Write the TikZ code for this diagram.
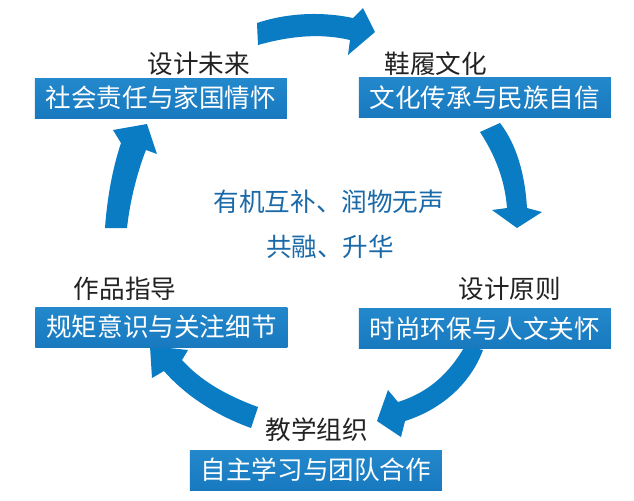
\documentclass[tikz,border=0pt]{standalone}
\usepackage{fontspec}
\setmainfont{Noto Sans CJK SC}
\definecolor{boxtop}{HTML}{2388CC}
\definecolor{boxbot}{HTML}{1879BF}
\definecolor{arrblue}{HTML}{0A7CC3}
\definecolor{ctrblue}{HTML}{1A69A8}
\definecolor{ttlgray}{HTML}{222222}
\begin{document}
\begin{tikzpicture}[x=0.5pt,y=-0.5pt,
  box/.style={top color=boxtop, bottom color=boxbot, draw=none, text=white,
    minimum width=126pt, minimum height=20pt, inner sep=0pt,
    font=\fontsize{12.8}{14}\selectfont},
  ttl/.style={text=ttlgray, inner sep=0pt, font=\fontsize{12.8}{14}\selectfont},
  ctr/.style={text=ctrblue, inner sep=0pt, font=\fontsize{12.8}{14}\selectfont},
  arr/.style={fill=arrblue, draw=none}]
\useasboundingbox (0,0) rectangle (634,500);
\fill[white] (0,0) rectangle (634,500);

% arrows
\fill[arr] (257,23) .. controls (290,12) and (325,12) .. (353,18) -- (363,8) -- (375,32) -- (348,55) -- (350,40) .. controls (320,33) and (290,36) .. (258,45) -- cycle;
\fill[arr] (480,132) .. controls (495,155) and (505,180) .. (507,208) -- (492,210) -- (517,228) -- (542,212) -- (527,208) .. controls (525,175) and (517,145) .. (500,123) -- cycle;
\fill[arr] (465,346) .. controls (450,372) and (430,392) .. (398,402) -- (388,390) -- (377,421) -- (401,437) -- (405,421) .. controls (440,410) and (470,385) .. (483,350) -- cycle;
\fill[arr] (258,407) .. controls (225,395) and (200,380) .. (182,360) -- (188,350) -- (150,346) -- (152,378) -- (164,371) .. controls (185,395) and (215,415) .. (251,428) -- cycle;
\fill[arr] (105,228) .. controls (107,200) and (112,170) .. (121,143) -- (113,130) -- (147,124) -- (157,154) -- (146,150) .. controls (138,170) and (130,200) .. (127,228) -- cycle;

% boxes
\node[box] (b1) at (161,98) {社会责任与家国情怀};
\node[box] (b2) at (485,97.5) {文化传承与民族自信};
\node[box] (b3) at (161.5,327) {规矩意识与关注细节};
\node[box] (b4) at (485,328.5) {时尚环保与人文关怀};
\node[box] (b5) at (316,470) {自主学习与团队合作};

% titles
\node[ttl] (t1) at (199,64) {设计未来};
\node[ttl] (t2) at (436,64) {鞋履文化};
\node[ttl] (t3) at (125,289) {作品指导};
\node[ttl] (t4) at (510,289) {设计原则};
\node[ttl] (t5) at (317,430) {教学组织};

% centre
\node[ctr] (c1) at (329,202) {有机互补、润物无声};
\node[ctr] (c2) at (330,247) {共融、升华};
\end{tikzpicture}
\end{document}
